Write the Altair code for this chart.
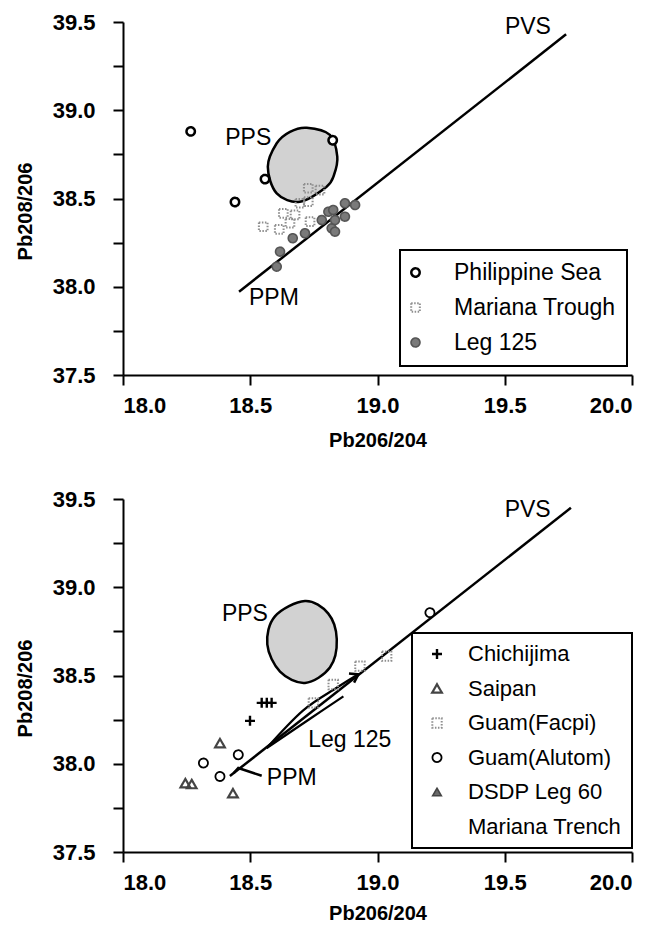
import altair as alt
import pandas as pd

FONT = "Liberation Sans"

# ---------------- data: top panel ----------------
ps_x = [18.266, 18.44, 18.558, 18.824]
ps_y = [38.88, 38.48, 38.61, 38.83]
mt_x = [18.551, 18.614, 18.630, 18.676, 18.656, 18.735, 18.695, 18.728, 18.728, 18.774]
mt_y = [38.340, 38.325, 38.416, 38.407, 38.360, 38.369, 38.473, 38.482, 38.558, 38.548]
l125_x = [18.617, 18.604, 18.667, 18.715, 18.781, 18.807, 18.826, 18.820, 18.833, 18.872, 18.912, 18.872, 18.833]
l125_y = [38.199, 38.114, 38.275, 38.303, 38.378, 38.425, 38.435, 38.331, 38.378, 38.473, 38.463, 38.397, 38.312]

pps1_x = [18.722, 18.813, 18.842, 18.829, 18.800, 18.695, 18.604, 18.569, 18.604, 18.656]
pps1_y = [38.901, 38.860, 38.737, 38.633, 38.567, 38.482, 38.529, 38.680, 38.813, 38.878]

pvs1_x = [18.456, 19.741]
pvs1_y = [37.972, 39.43]

top_names = ["Philippine Sea", "Mariana Trough", "Leg 125"]

top_text = ["PVS", "PPS", "PPM"]
top_text_x = [19.591, 18.492, 18.593]
top_text_y = [39.473, 38.84, 37.936]

# ---------------- data: bottom panel ----------------
chichi_x = [18.499, 18.545, 18.565, 18.584]
chichi_y = [38.243, 38.345, 38.345, 38.345]
saipan_x = [18.381, 18.245, 18.27, 18.432]
saipan_y = [38.117, 37.89, 37.885, 37.833]
facpi_x = [18.748, 18.826, 18.931, 19.036]
facpi_y = [38.345, 38.449, 38.553, 38.61]
alutom_x = [18.316, 18.381, 18.453, 19.206]
alutom_y = [38.004, 37.928, 38.051, 38.856]

pps2_x = [18.715, 18.806, 18.840, 18.813, 18.715, 18.617, 18.567, 18.597]
pps2_y = [38.922, 38.852, 38.705, 38.545, 38.458, 38.522, 38.676, 38.835]

pvs2_x = [18.42, 19.76]
pvs2_y = [37.93, 39.45]
leg_up_x = [18.565, 18.707, 18.841, 18.923]
leg_up_y = [38.089, 38.301, 38.432, 38.506]
leg_lo_x = [18.565, 18.735, 18.866]
leg_lo_y = [38.089, 38.255, 38.382]
arrow_x = [18.888, 18.925, 18.908]
arrow_y = [38.511, 38.506, 38.46]
ppm_lead_x = [18.435, 18.453, 18.545]
ppm_lead_y = [37.947, 37.976, 37.932]

bot_names = ["Chichijima", "Saipan", "Guam(Facpi)", "Guam(Alutom)", "DSDP Leg 60", "Mariana Trench"]

bot_text = ["PVS", "PPS", "PPM"]
bot_text_x = [19.59, 18.479, 18.663]
bot_text_y = [39.44, 38.847, 37.919]
leg_label = ["Leg 125"]
leg_label_x = [18.728]
leg_label_y = [38.136]

x_ticks = [18.0, 18.5, 19.0, 19.5, 20.0]
y_ticks = [37.5, 37.75, 38.0, 38.25, 38.5, 38.75, 39.0, 39.25, 39.5]

W, H = 509, 353


def xenc(title_y):
    return alt.X(
        "x:Q",
        scale=alt.Scale(domain=[18, 20], nice=False, zero=False),
        axis=alt.Axis(values=x_ticks, format=".1f", title="Pb206/204", titleY=title_y,
                      titleBaseline="middle", labelPadding=10),
    )


def yenc():
    return alt.Y(
        "y:Q",
        scale=alt.Scale(domain=[37.5, 39.5], nice=False, zero=False),
        axis=alt.Axis(values=y_ticks,
                      labelExpr="(datum.value * 4) % 2 == 0 ? format(datum.value, '.1f') : ''",
                      title="Pb208/206", titleX=-98, titleY=189, titleBaseline="middle",
                      labelPadding=18),
    )


def frame(groups):
    rows = []
    for name, xs, ys in groups:
        for x, y in zip(xs, ys):
            rows.append({"x": x, "y": y, "series": name})
    return pd.DataFrame(rows, columns=["x", "y", "series"])


def lines_frame(lines):
    rows = []
    for lid, xs, ys in lines:
        for i, (x, y) in enumerate(zip(xs, ys)):
            rows.append({"x": x, "y": y, "line": lid, "i": i})
    return pd.DataFrame(rows, columns=["x", "y", "line", "i"])


def panel(pts, names, shapes, fills, strokes, dashes, widths, sizes, legend,
          ell_x, ell_y, straight, curves, texts, left_texts, title_y):
    ell = pd.DataFrame({"x": ell_x, "y": ell_y, "i": list(range(len(ell_x)))})
    ellipse = alt.Chart(ell).mark_line(
        interpolate="cardinal-closed", fill="#d2d2d2", stroke="black", strokeWidth=2.5
    ).encode(x=xenc(title_y), y=yenc(), order="i:Q")

    layers = [ellipse]
    layers.append(alt.Chart(lines_frame(straight)).mark_line(
        stroke="black", strokeWidth=2.5, interpolate="linear"
    ).encode(x=xenc(title_y), y=yenc(), detail="line:N", order="i:Q"))
    if curves:
        layers.append(alt.Chart(lines_frame(curves)).mark_line(
            stroke="black", strokeWidth=2.2, interpolate="cardinal"
        ).encode(x=xenc(title_y), y=yenc(), detail="line:N", order="i:Q"))

    def sc(rng):
        return alt.Scale(domain=names, range=rng)

    points = alt.Chart(pts).mark_point(opacity=1).encode(
        x=xenc(title_y), y=yenc(),
        shape=alt.Shape("series:N", scale=sc(shapes), legend=legend),
        fill=alt.Fill("series:N", scale=sc(fills), legend=legend),
        stroke=alt.Stroke("series:N", scale=sc(strokes), legend=legend),
        strokeDash=alt.StrokeDash("series:N", scale=sc(dashes), legend=legend),
        strokeWidth=alt.StrokeWidth("series:N", scale=sc(widths), legend=legend),
        size=alt.Size("series:N", scale=sc(sizes), legend=legend),
    )
    layers.append(points)

    tdf = pd.DataFrame({"x": texts[1], "y": texts[2], "label": texts[0]})
    layers.append(alt.Chart(tdf).mark_text(
        font=FONT, fontSize=23, color="black", align="center", baseline="middle"
    ).encode(x=xenc(title_y), y=yenc(), text="label:N"))

    if left_texts is not None:
        ldf = pd.DataFrame({"x": left_texts[1], "y": left_texts[2], "label": left_texts[0]})
        layers.append(alt.Chart(ldf).mark_text(
            font=FONT, fontSize=23, color="black", align="left", baseline="middle"
        ).encode(x=xenc(title_y), y=yenc(), text="label:N"))
    return alt.layer(*layers).properties(width=W, height=H)


top_pts = frame([
    ("Philippine Sea", ps_x, ps_y),
    ("Mariana Trough", mt_x, mt_y),
    ("Leg 125", l125_x, l125_y),
])
top_legend = alt.Legend(title=None, orient="none", legendX=277, legendY=228, direction="vertical",
                        padding=11, rowPadding=11, symbolOffset=-7, labelOffset=27, zindex=1,
                        labelLimit=400)
top = panel(
    top_pts, top_names,
    shapes=["circle", "square", "circle"],
    fills=["white", "transparent", "#7a7a7a"],
    strokes=["black", "#8f8f8f", "#555555"],
    dashes=[[1, 0], [1.5, 1.5], [1, 0]],
    widths=[2.5, 1.6, 1.2],
    sizes=[70, 80, 115],
    legend=top_legend,
    ell_x=pps1_x, ell_y=pps1_y,
    straight=[("pvs", pvs1_x, pvs1_y)],
    curves=[],
    texts=(top_text, top_text_x, top_text_y),
    left_texts=None,
    title_y=65,
)

bot_pts = frame([
    ("Chichijima", chichi_x, chichi_y),
    ("Saipan", saipan_x, saipan_y),
    ("Guam(Facpi)", facpi_x, facpi_y),
    ("Guam(Alutom)", alutom_x, alutom_y),
])
bot_legend = alt.Legend(title=None, orient="none", legendX=289, legendY=134, direction="vertical",
                        padding=10, rowPadding=12.5, symbolOffset=4, labelOffset=20, zindex=1,
                        labelLimit=400, labelFontSize=22)
bottom = panel(
    bot_pts, bot_names,
    shapes=["M-1,0H1M0,-1V1", "triangle-up", "square", "circle", "triangle-up", "circle"],
    fills=["transparent", "transparent", "transparent", "white", "#6a6a6a", "transparent"],
    strokes=["black", "#444444", "#8f8f8f", "black", "#444444", "transparent"],
    dashes=[[1, 0], [1, 0], [1.5, 1.5], [1, 0], [1, 0], [1, 0]],
    widths=[2.4, 1.4, 1.6, 2.5, 1, 0],
    sizes=[100, 70, 80, 70, 80, 60],
    legend=bot_legend,
    ell_x=pps2_x, ell_y=pps2_y,
    straight=[("pvs", pvs2_x, pvs2_y), ("arrow", arrow_x, arrow_y), ("ppm", ppm_lead_x, ppm_lead_y)],
    curves=[("up", leg_up_x, leg_up_y), ("lo", leg_lo_x, leg_lo_y)],
    texts=(bot_text, bot_text_x, bot_text_y),
    left_texts=(leg_label, leg_label_x, leg_label_y),
    title_y=61,
)

indep = dict(shape="independent", fill="independent", stroke="independent",
             strokeDash="independent", strokeWidth="independent", size="independent")

chart = alt.vconcat(top, bottom, spacing=38).resolve_scale(**indep).resolve_legend(**indep).configure(
    padding={"left": 15, "top": 11, "right": 5, "bottom": 5},
    background="white",
).configure_view(stroke=None).configure_axis(
    domainColor="black", domainWidth=2, tickColor="black", tickWidth=2, tickSize=10,
    grid=False, labelFont=FONT, labelFontSize=22, labelFontWeight="bold", labelColor="black",
    titleFont=FONT, titleFontSize=20, titleFontWeight="bold", titleColor="black",
).configure_legend(
    strokeColor="black", strokeWidth=2, fillColor="white", labelFont=FONT, labelFontSize=23,
    labelColor="black",
)

chart.save("out.html", embed_options={"renderer": "svg", "actions": False})
